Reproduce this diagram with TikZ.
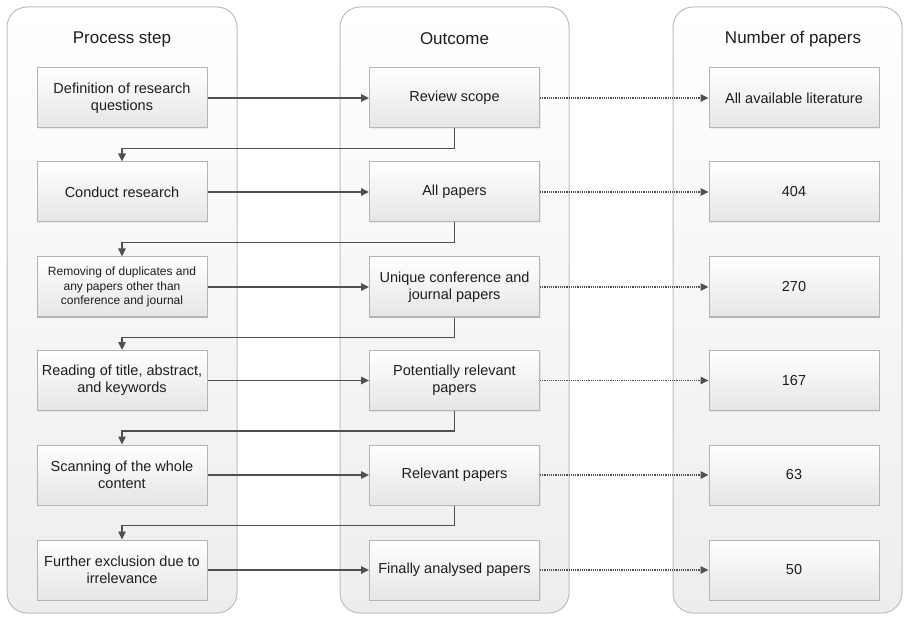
\documentclass[tikz,border=0pt]{standalone}
\usepackage{fontspec}
\setmainfont{Liberation Sans}
\usetikzlibrary{arrows.meta,shadows,calc}
\definecolor{txt}{HTML}{1E1E1E}
\definecolor{lin}{HTML}{505050}
\definecolor{bord}{HTML}{B4B4B4}
\definecolor{pbord}{HTML}{BEBEBE}
\tikzset{
  x=1pt,y=1pt,
  panel/.style={draw=pbord,line width=1pt,rounded corners=20pt,top color=white,bottom color=black!7},
  header/.style={text=txt,font=\fontsize{17}{20}\selectfont},
  box/.style={draw=bord,line width=1pt,top color=white,bottom color=black!10,
    minimum width=170pt,minimum height=60pt,align=center,
    text=txt,font=\fontsize{14.5}{17}\selectfont,
    drop shadow={opacity=0.12,shadow xshift=1pt,shadow yshift=-1.2pt}},
  small/.style={font=\fontsize{12}{14.5}\selectfont},
  arr/.style={draw=lin,line width=1.5pt,-{Triangle[length=8pt,width=7.5pt]}},
  dotarr/.style={draw=lin,line width=1.3pt,dash pattern=on 1.2pt off 1pt,-{Triangle[length=8pt,width=7.5pt]}},
}
\begin{document}
\begin{tikzpicture}
\useasboundingbox (0,0) rectangle (904,-617);
% panels
\path[panel] (7,-7) rectangle (237,-613);
\path[panel] (340,-7) rectangle (569,-613);
\path[panel] (673,-7) rectangle (902,-613);
% headers
\node[header] (h1) at (122,-39) {Process step};
\node[header] (h2) at (454.5,-39) {Outcome};
\node[header] (h3) at (793,-39) {Number of papers};
% column 1
\node[box] (p1) at (122,-98) {Definition of research\\questions};
\node[box] (p2) at (122,-192) {Conduct research};
\node[box,small] (p3) at (122,-287) {Removing of duplicates and\\any papers other than\\conference and journal};
\node[box] (p4) at (122,-380.5) {Reading of title, abstract,\\and keywords};
\node[box] (p5) at (122,-475) {Scanning of the whole\\content};
\node[box] (p6) at (122,-570) {Further exclusion due to\\irrelevance};
% column 2
\node[box] (o1) at (454.5,-98) {Review scope};
\node[box] (o2) at (454.5,-192) {All papers};
\node[box] (o3) at (454.5,-287) {Unique conference and\\journal papers};
\node[box] (o4) at (454.5,-380.5) {Potentially relevant\\papers};
\node[box] (o5) at (454.5,-475) {Relevant papers};
\node[box] (o6) at (454.5,-570) {Finally analysed papers};
% column 3
\node[box] (n1) at (794,-98) {All available literature};
\node[box] (n2) at (794,-192) {404};
\node[box] (n3) at (794,-287) {270};
\node[box] (n4) at (794,-380.5) {167};
\node[box] (n5) at (794,-475) {63};
\node[box] (n6) at (794,-570) {50};
% connectors
\foreach \i in {1,...,6}{
  \draw[arr] (p\i.east) -- (o\i.west);
  \draw[dotarr] (o\i.east) -- (n\i.west);
}
\foreach \i/\j in {1/2,2/3,3/4,4/5,5/6}{
  \draw[arr] (o\i.south) -- ++(0,-20) -| (p\j.north);
}
\end{tikzpicture}
\end{document}
